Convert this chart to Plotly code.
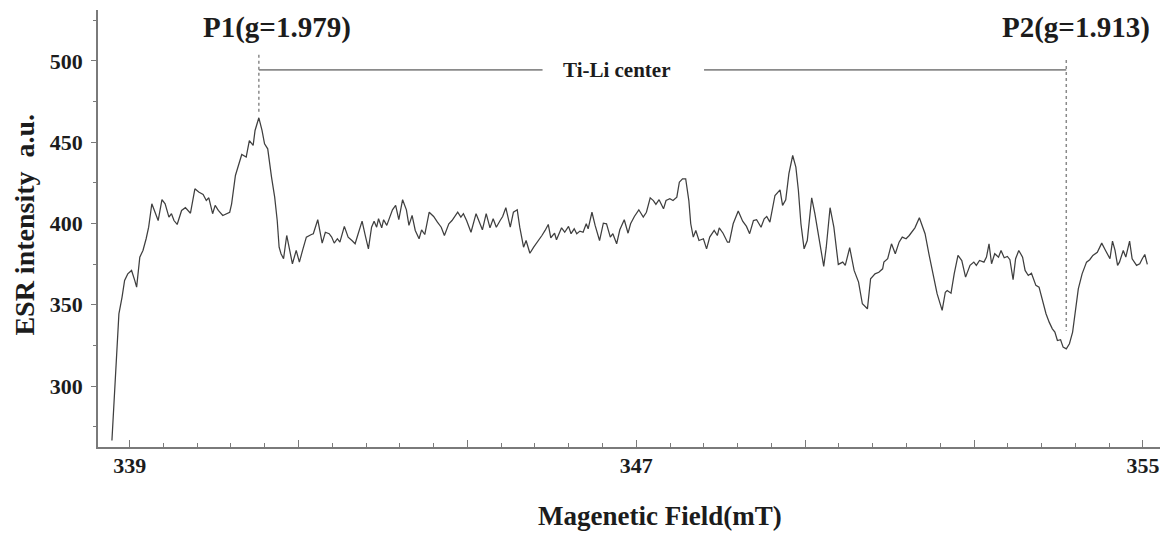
import plotly.graph_objects as go

# ---- data (field in mT, ESR intensity in a.u.) ----
field_mT = [
    338.72, 338.76, 338.80, 338.83, 338.88, 338.92, 338.97, 339.03, 339.08, 339.11,
    339.16, 339.21, 339.26, 339.30, 339.35, 339.39, 339.45, 339.51, 339.56, 339.62,
    339.66, 339.70, 339.75, 339.82, 339.88, 339.96, 340.03, 340.09, 340.16, 340.21,
    340.25, 340.31, 340.35, 340.40, 340.47, 340.58, 340.61, 340.67, 340.72, 340.77,
    340.84, 340.89, 340.95, 340.98, 341.04, 341.09, 341.13, 341.18, 341.24, 341.29,
    341.33, 341.36, 341.39, 341.43, 341.48, 341.52, 341.57, 341.63, 341.68, 341.73,
    341.79, 341.87, 341.90, 341.97, 342.04, 342.09, 342.15, 342.19, 342.23, 342.28,
    342.32, 342.39, 342.45, 342.51, 342.56, 342.60, 342.67, 342.72, 342.77, 342.82,
    342.86, 342.90, 342.93, 342.98, 343.01, 343.06, 343.15, 343.20, 343.25, 343.31,
    343.37, 343.41, 343.46, 343.51, 343.57, 343.61, 343.66, 343.73, 343.80, 343.86,
    343.92, 343.97, 344.04, 344.09, 344.18, 344.23, 344.27, 344.32, 344.39, 344.47,
    344.53, 344.57, 344.63, 344.69, 344.74, 344.79, 344.85, 344.89, 344.94, 345.01,
    345.06, 345.12, 345.16, 345.22, 345.26, 345.32, 345.38, 345.44, 345.51, 345.56,
    345.61, 345.65, 345.71, 345.74, 345.82, 345.87, 345.93, 345.97, 346.02, 346.06,
    346.11, 346.16, 346.21, 346.24, 346.30, 346.35, 346.42, 346.48, 346.53, 346.59,
    346.63, 346.69, 346.74, 346.81, 346.87, 346.91, 346.97, 347.04, 347.11, 347.16,
    347.22, 347.27, 347.31, 347.36, 347.43, 347.47, 347.53, 347.58, 347.64, 347.68,
    347.73, 347.78, 347.83, 347.86, 347.90, 347.94, 347.99, 348.06, 348.11, 348.16,
    348.23, 348.28, 348.31, 348.37, 348.44, 348.47, 348.53, 348.61, 348.68, 348.74,
    348.79, 348.85, 348.90, 348.97, 349.02, 349.06, 349.11, 349.19, 349.27, 349.31,
    349.36, 349.41, 349.47, 349.52, 349.56, 349.60, 349.65, 349.70, 349.77, 349.82,
    349.89, 349.96, 350.00, 350.06, 350.12, 350.19, 350.26, 350.30, 350.37, 350.44,
    350.51, 350.57, 350.65, 350.70, 350.77, 350.83, 350.89, 350.91, 350.97, 351.03,
    351.09, 351.15, 351.20, 351.26, 351.31, 351.35, 351.40, 351.47, 351.52, 351.56,
    351.62, 351.69, 351.75, 351.83, 351.88, 351.91, 351.97, 352.02, 352.08, 352.14,
    352.20, 352.27, 352.33, 352.37, 352.42, 352.49, 352.53, 352.57, 352.61, 352.66,
    352.72, 352.76, 352.81, 352.86, 352.90, 352.95, 352.99, 353.04, 353.10, 353.14,
    353.19, 353.24, 353.31, 353.36, 353.41, 353.47, 353.52, 353.57, 353.61, 353.65,
    353.70, 353.74, 353.79, 353.84, 353.89, 353.93, 353.98, 354.04, 354.11, 354.16,
    354.21, 354.28, 354.35, 354.41, 354.48, 354.52, 354.56, 354.60, 354.63, 354.69,
    354.73, 354.79, 354.83, 354.90, 354.95, 354.99, 355.03, 355.07,
]

esr_intensity = [
    266.5, 295.3, 321.9, 344.4, 354.7, 365.0, 369.0, 371.1, 365.0, 360.8,
    379.3, 383.4, 390.6, 397.7, 412.1, 408.0, 401.8, 414.6, 412.1, 403.9,
    406.0, 401.8, 399.4, 408.0, 409.7, 406.3, 421.3, 419.3, 417.8, 414.1,
    415.8, 406.0, 411.1, 408.0, 404.9, 406.9, 412.1, 429.5, 436.7, 442.4,
    440.8, 451.0, 448.0, 457.2, 465.0, 457.2, 449.0, 445.9, 428.5, 416.2,
    401.8, 385.4, 381.4, 378.3, 392.6, 385.4, 375.2, 383.4, 376.2, 383.4,
    391.6, 393.2, 393.7, 402.3, 387.9, 394.6, 393.7, 391.6, 387.9, 390.6,
    388.5, 398.2, 391.6, 389.5, 387.5, 392.6, 401.4, 392.6, 384.4, 397.7,
    401.4, 397.7, 402.9, 397.3, 402.3, 398.8, 408.4, 411.1, 402.3, 414.6,
    408.4, 398.8, 404.9, 395.7, 390.6, 396.1, 393.2, 406.9, 404.3, 400.8,
    397.7, 392.6, 399.8, 401.8, 406.9, 403.9, 406.0, 401.8, 394.6, 406.0,
    400.2, 396.1, 406.0, 397.3, 402.9, 397.7, 401.8, 404.3, 409.7, 397.7,
    406.9, 408.4, 397.7, 385.4, 389.5, 381.7, 385.4, 388.5, 392.6, 395.7,
    399.4, 391.2, 394.0, 390.0, 397.3, 394.6, 398.2, 393.7, 396.7, 393.7,
    395.3, 394.6, 399.8, 396.7, 406.9, 398.8, 389.5, 400.2, 399.8, 391.6,
    393.7, 387.5, 396.1, 402.3, 394.0, 399.8, 404.3, 408.4, 403.9, 406.9,
    415.8, 414.1, 411.7, 414.6, 409.0, 414.1, 415.2, 414.1, 416.2, 425.4,
    427.5, 427.5, 414.1, 399.8, 391.6, 395.7, 389.5, 390.6, 384.4, 391.6,
    395.7, 392.6, 397.3, 394.0, 388.5, 388.5, 399.8, 407.6, 401.4, 398.2,
    393.7, 401.8, 402.3, 397.7, 402.9, 404.3, 400.8, 417.2, 420.7, 411.1,
    414.6, 430.6, 441.8, 434.6, 420.3, 399.8, 384.4, 389.5, 415.8, 406.0,
    389.5, 373.6, 385.4, 409.7, 397.7, 374.8, 376.2, 374.2, 385.1, 371.1,
    363.9, 350.6, 347.5, 366.0, 369.0, 370.0, 372.1, 376.2, 378.3, 387.5,
    381.4, 388.5, 391.6, 390.6, 392.6, 394.6, 397.3, 403.5, 397.3, 393.7,
    381.4, 369.0, 356.8, 346.5, 357.7, 358.8, 357.1, 369.0, 380.3, 377.2,
    367.0, 374.2, 376.2, 374.2, 377.2, 376.2, 379.3, 387.5, 375.2, 381.4,
    379.3, 383.4, 378.9, 379.7, 377.7, 365.4, 378.3, 383.4, 379.3, 371.1,
    368.0, 369.4, 361.9, 360.8, 352.6, 344.5, 339.3, 335.2, 333.2, 328.0,
    328.5, 323.9, 322.9, 326.0, 333.2, 344.5, 359.8, 369.0, 376.2, 377.7,
    380.3, 382.3, 387.9, 383.4, 378.3, 389.1, 383.4, 374.2, 376.2, 383.4,
    379.3, 389.1, 378.3, 374.2, 375.2, 378.3, 380.9, 374.8,
]

x_tick_labels = ["339", "347", "355"]
x_tick_label_values = [339, 347, 355]
y_tick_values = [300, 350, 400, 450, 500]

peak_labels = ["P1(g=1.979)", "P2(g=1.913)"]
peak_fields = [341.04, 353.79]
center_label = "Ti-Li center"

FONT = "Liberation Serif"
TXT = "#1c1c1c"
AX = "#7a7a7a"

fig = go.Figure()
fig.add_trace(go.Scatter(
    x=field_mT, y=esr_intensity, mode="lines",
    line=dict(color="#3f3f3f", width=1.25), showlegend=False, hoverinfo="skip",
))

x_major = [339 + k * 8 / 3 for k in range(7)]
x_text = ["" for _ in x_major]
for v, t in zip(x_tick_label_values, x_tick_labels):
    for i, m in enumerate(x_major):
        if abs(m - v) < 1e-6:
            x_text[i] = t

fig.update_layout(
    width=1166, height=533,
    margin=dict(l=98, r=6, t=10, b=86),
    paper_bgcolor="white", plot_bgcolor="white",
    font=dict(family=FONT, color=TXT),
    xaxis=dict(
        range=[338.5, 355.27], showgrid=False, zeroline=False,
        showline=True, linecolor=AX, linewidth=1.5,
        tickmode="array", tickvals=x_major, ticktext=x_text,
        ticks="inside", ticklen=7, tickcolor=AX, tickwidth=1,
        tickfont=dict(family=FONT, size=22, color=TXT, weight="bold"),
        ticklabelstandoff=-2,
        minor=dict(tick0=339, dtick=8 / 15, ticks="inside", ticklen=4,
                   tickcolor=AX, tickwidth=1, showgrid=False),
    ),
    yaxis=dict(
        range=[262.5, 531.3], showgrid=False, zeroline=False,
        showline=True, linecolor=AX, linewidth=1.5,
        tickmode="array", tickvals=y_tick_values,
        ticks="outside", ticklen=5, tickcolor=AX, tickwidth=1,
        tickfont=dict(family=FONT, size=22, color=TXT, weight="bold"),
        ticklabelstandoff=4,
        minor=dict(tick0=275, dtick=50, ticks="outside", ticklen=3,
                   tickcolor=AX, tickwidth=1, showgrid=False),
    ),
)

# horizontal "Ti-Li center" bracket line
line_y = 494.5
fig.add_shape(type="line", x0=peak_fields[0], x1=345.52, y0=line_y, y1=line_y,
              xref="x", yref="y", line=dict(color="#8a8a8a", width=1.8))
fig.add_shape(type="line", x0=348.07, x1=peak_fields[1], y0=line_y, y1=line_y,
              xref="x", yref="y", line=dict(color="#8a8a8a", width=1.8))
fig.add_annotation(x=346.69, y=line_y, xref="x", yref="y", text=center_label,
                   showarrow=False, font=dict(family=FONT, size=21, color=TXT, weight="bold"),
                   xanchor="center", yanchor="middle")

# dotted marker lines
fig.add_shape(type="line", x0=peak_fields[0], x1=peak_fields[0], y0=503.7, y1=467.5,
              xref="x", yref="y", line=dict(color="#8a8a8a", width=1.5, dash="dot"))
fig.add_shape(type="line", x0=peak_fields[1], x1=peak_fields[1], y0=500.6, y1=334.0,
              xref="x", yref="y", line=dict(color="#8a8a8a", width=1.5, dash="dot"))

# peak labels
for lab, xc in zip(peak_labels, [341.33, 353.94]):
    fig.add_annotation(x=xc, y=520.5, xref="x", yref="y", text=lab, showarrow=False,
                       font=dict(family=FONT, size=29, color=TXT, weight="bold"),
                       xanchor="center", yanchor="middle")

# axis titles
fig.add_annotation(x=0.529, y=-0.158, xref="paper", yref="paper",
                   text="Magenetic Field(mT)", showarrow=False,
                   font=dict(family=FONT, size=27, color=TXT, weight="bold"),
                   xanchor="center", yanchor="middle")
fig.add_annotation(x=-0.0687, y=0.509, xref="paper", yref="paper",
                   text="ESR intensity  a.u.", showarrow=False, textangle=-90,
                   font=dict(family=FONT, size=28, color=TXT, weight="bold"),
                   xanchor="center", yanchor="middle")

fig.write_html("out.html")
